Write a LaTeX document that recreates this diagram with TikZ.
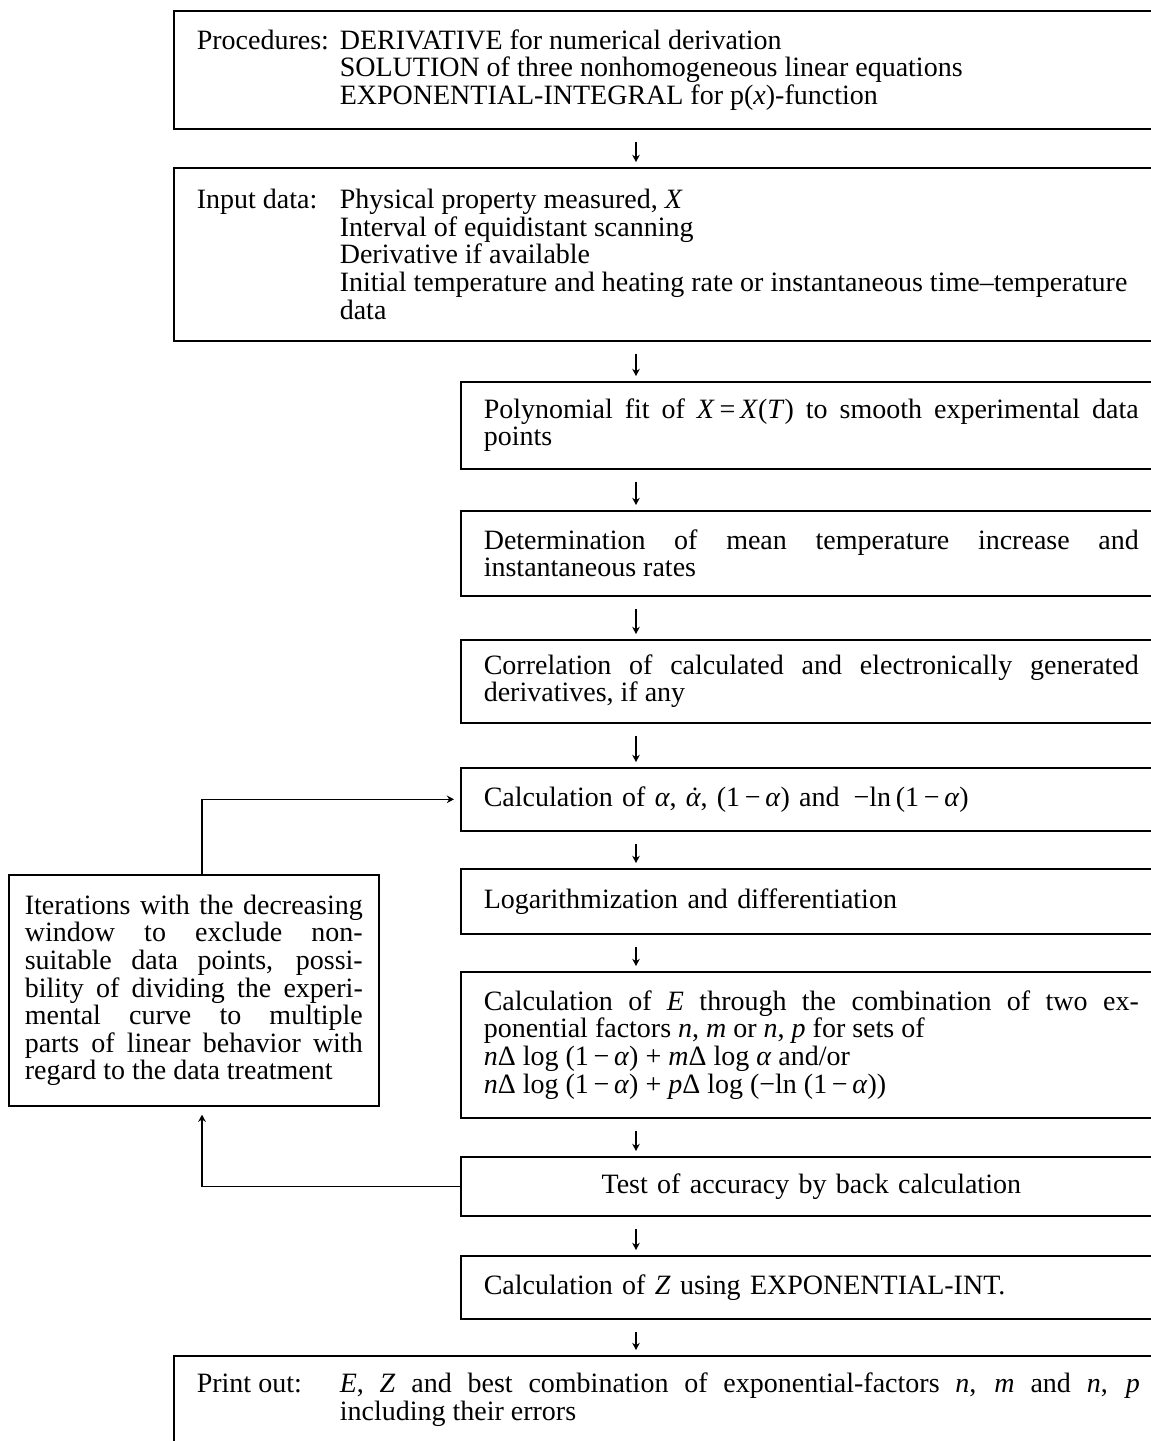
\documentclass[tikz,border=0pt]{standalone}
\usepackage{fontspec}
\setmainfont{Liberation Serif}
\usetikzlibrary{arrows.meta}
% italic alpha and alpha with a dot above
\newcommand{\al}{\textit{α}}
\newcommand{\ald}{{\itshape\accent"02D9 α}}
% label followed by an aligned column of lines
\newcommand{\twocol}[3]{\makebox[71.5pt][l]{#1}\begin{minipage}[t]{#2}\spaceskip=0pt\xspaceskip=0pt #3\end{minipage}}
\begin{document}
\begin{tikzpicture}[x=0.5pt,y=-0.5pt,
  box/.style={draw, line width=0.8pt, anchor=north west, inner xsep=11.5pt, inner ysep=0pt,
    font=\fontsize{14}{13.8}\selectfont,
    execute at begin node={\lineskiplimit=-20pt\lineskip=0pt\tolerance=10000\hbadness=10000}},
  wide/.style={box, text width=475.5pt, align=justify},
  narrow/.style={box, text width=327.5pt, align=justify},
  flow/.style={line width=0.7pt, -{Stealth[length=3.6pt,width=3.8pt]}},
  down/.style={flow, shorten <=6pt, shorten >=2.5pt}]
\useasboundingbox (0,0) rectangle (1151,1441);
\fill[white] (0,0) rectangle (1151,1441);
\clip (0,0) rectangle (1151,1441);

% main column of steps
\node[wide, minimum height=59pt] (b1) at (173,10)
  {\twocol{Procedures:}{404pt}{DERIVATIVE for numerical derivation\\
   SOLUTION of three nonhomogeneous linear equations\\
   EXPONENTIAL-INTEGRAL for p(\textit{x})-function}};
\node[wide, minimum height=86.5pt] (b2) at (173,167)
  {\twocol{Input data:}{404pt}{Physical property measured, \textit{X}\\
   Interval of equidistant scanning\\
   Derivative if available\\
   Initial temperature and heating rate or instantaneous time–temperature\\
   data}};
\node[narrow, minimum height=43.5pt] (b3) at (460,381)
  {Polynomial fit of \textit{X}\,=\,\textit{X}(\textit{T}) to smooth experimental data\linebreak points};
\node[narrow, minimum height=42.5pt] (b4) at (460,510)
  {Determination of mean temperature increase and\linebreak instantaneous rates};
\node[narrow, minimum height=41.5pt] (b5) at (460,639)
  {Correlation of calculated and electronically generated\linebreak derivatives, if any};
\node[narrow, align=left, minimum height=31.5pt] (b6) at (460,767)
  {Calculation of \al, \ald, (1\,−\,\al) and \,−ln\,(1\,−\,\al)};
\node[narrow, align=left, minimum height=32.5pt] (b7) at (460,868)
  {Logarithmization and differentiation};
\node[narrow, minimum height=73pt] (b8) at (460,971)
  {Calculation of \textit{E} through the combination of two ex-\linebreak
   ponential factors \textit{n}, \textit{m} or \textit{n}, \textit{p} for sets of\\
   \textit{n}Δ log (1\,−\,\al) + \textit{m}Δ log \al{} and/or\\
   \textit{n}Δ log (1\,−\,\al) + \textit{p}Δ log (−ln (1\,−\,\al))};
\node[narrow, align=center, minimum height=29.5pt] (b9) at (460,1156)
  {Test of accuracy by back calculation};
\node[narrow, align=left, minimum height=31.5pt] (b10) at (460,1255)
  {Calculation of \textit{Z} using EXPONENTIAL-INT.};
\node[wide, minimum height=44pt] (b11) at (173,1355)
  {\twocol{Print out:}{400pt}{\textit{E}, \textit{Z} and best combination of exponential-factors \textit{n}, \textit{m} and \textit{n}, \textit{p}\linebreak
   including their errors}};

% side box for the iteration loop
\node[box, inner xsep=8pt, text width=169pt, align=justify, minimum height=115.5pt] (left) at (8,874)
  {\parfillskip=0pt Iterations with the decreasing\linebreak
   window to exclude non-\linebreak
   suitable data points, possi-\linebreak
   bility of dividing the experi-\linebreak
   mental curve to multiple\linebreak
   parts of linear behavior with\linebreak
   regard to the data treatment};

% connectors
\coordinate (col) at (636,0);
\coordinate (fbx) at (202,0);
\foreach \a/\b in {b1/b2, b2/b3, b3/b4, b4/b5, b5/b6, b6/b7, b7/b8, b8/b9, b9/b10, b10/b11}
  \draw[down] (\a.south -| col) -- (\b.north -| col);
\draw[flow, shorten >=3pt] (left.north -| fbx) |- (b6.west);
\draw[flow, shorten >=4pt] (b9.west) -| (left.south -| fbx);
\end{tikzpicture}
\end{document}
